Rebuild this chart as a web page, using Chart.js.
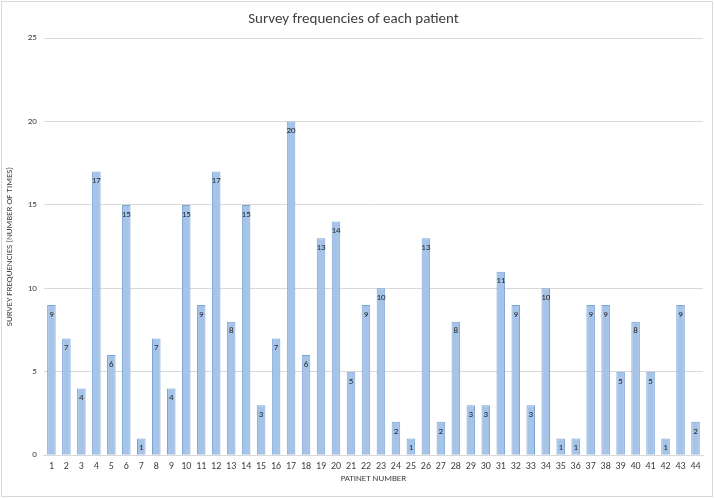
<!DOCTYPE html>
<html>
<head>
<meta charset="utf-8">
<script src="https://cdn.jsdelivr.net/npm/chart.js@4.4.0/dist/chart.umd.min.js"></script>
<style>
  html, body { margin: 0; padding: 0; background: #fff; }
  #wrap { position: absolute; left: 1px; top: 1px; width: 710px; height: 494px; border: 1px solid #d9d9d9; }
</style>
</head>
<body>
<div id="wrap"><canvas id="surveyChart"></canvas></div>
<script>
// patient numbers and survey counts
const patients = [];
for (let i = 1; i <= 44; i++) patients.push(String(i));
const frequencies = [9, 7, 4, 17, 6, 15, 1, 7, 4, 15, 9, 17, 8, 15, 3, 7, 20, 6, 13, 14, 5, 9, 10, 2, 1, 13, 2, 8, 3, 3, 11, 9, 3, 10, 1, 1, 9, 9, 5, 8, 5, 1, 9, 2];
const yTicks = [0, 5, 10, 15, 20, 25];

const fontFam = "Calibri, Carlito, 'Open Sans', sans-serif";

// draw value labels just inside the top of each bar
const barLabels = {
  id: "barLabels",
  afterDatasetsDraw(chart) {
    const ctx = chart.ctx;
    const meta = chart.getDatasetMeta(0);
    ctx.save();
    ctx.font = "9px " + fontFam;
    ctx.fillStyle = "#262626";
    ctx.textAlign = "center";
    ctx.textBaseline = "top";
    meta.data.forEach((bar, i) => {
      ctx.fillText(frequencies[i], bar.x, bar.y + 5);
    });
    ctx.restore();
  }
};

const ctx = document.getElementById("surveyChart").getContext("2d");
new Chart(ctx, {
  type: "bar",
  data: {
    labels: patients,
    datasets: [
      {
        label: "Survey frequencies",
        data: frequencies,
        backgroundColor: "#a6c4e8",
        borderColor: "#7aa3d6",
        borderWidth: 1,
        barPercentage: 0.57,
        categoryPercentage: 1.0
      }
    ]
  },
  options: {
    responsive: true,
    maintainAspectRatio: false,
    animation: false,
    layout: { padding: { left: 2, right: 9, top: 3, bottom: 12 } },
    plugins: {
      legend: { display: false },
      tooltip: { enabled: false },
      title: {
        display: true,
        text: "Survey frequencies of each patient",
        color: "#404040",
        font: { size: 15, family: fontFam, weight: "normal" },
        padding: { top: 5, bottom: 10 }
      }
    },
    scales: {
      x: {
        grid: { display: false, drawTicks: false },
        border: { color: "#d9d9d9" },
        ticks: {
          color: "#404040",
          font: { size: 10, family: fontFam },
          maxRotation: 0,
          autoSkip: false,
          padding: 5
        },
        title: {
          display: true,
          text: "PATINET NUMBER",
          color: "#404040",
          font: { size: 9, family: fontFam },
          padding: { top: -4, bottom: 0 }
        }
      },
      y: {
        min: 0,
        max: 25,
        afterBuildTicks: (axis) => {
          axis.ticks = yTicks.map((v) => ({ value: v }));
        },
        grid: { color: "#d9d9d9", drawTicks: false },
        border: { display: false },
        ticks: {
          color: "#404040",
          font: { size: 9, family: fontFam },
          padding: 7
        },
        title: {
          display: true,
          text: "SURVEY FREQUENCIES (NUMBER OF TIMES)",
          color: "#404040",
          font: { size: 9, family: fontFam },
          padding: { top: 0, bottom: 6 }
        }
      }
    }
  },
  plugins: [barLabels]
});
</script>
</body>
</html>
